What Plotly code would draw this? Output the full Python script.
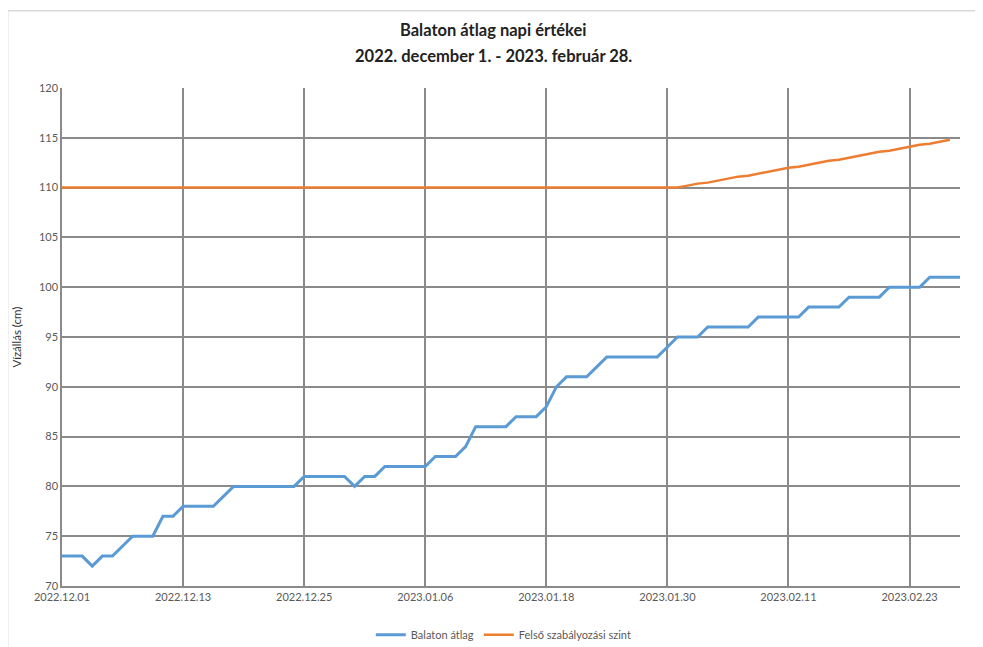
import plotly.graph_objects as go
import pandas as pd

# napi értékek 2022.12.01 - 2023.02.28
dates = pd.date_range('2022-12-01', '2023-02-28', freq='D')

balaton_atlag = [
    73, 73, 73, 72, 73, 73, 74, 75, 75, 75,
    77, 77, 78, 78, 78, 78, 79, 80, 80, 80,
    80, 80, 80, 80, 81, 81, 81, 81, 81, 80,
    81, 81, 82, 82, 82, 82, 82, 83, 83, 83,
    84, 86, 86, 86, 86, 87, 87, 87, 88, 90,
    91, 91, 91, 92, 93, 93, 93, 93, 93, 93,
    94, 95, 95, 95, 96, 96, 96, 96, 96, 97,
    97, 97, 97, 97, 98, 98, 98, 98, 99, 99,
    99, 99, 100, 100, 100, 100, 101, 101, 101, 101,
]

felso_szint = [110.0] * 62 + [
    110.2, 110.4, 110.5, 110.7, 110.9, 111.1, 111.2, 111.4, 111.6,
    111.8, 112.0, 112.1, 112.3, 112.5, 112.7, 112.8, 113.0, 113.2, 113.4,
    113.6, 113.7, 113.9, 114.1, 114.3, 114.4, 114.6, 114.8,
]

title_1 = 'Balaton átlag napi értékei'
title_2 = '2022. december 1. - 2023. február 28.'

font_family = 'Lato, Open Sans, sans-serif'
grid_col = '#8a8a8a'

fig = go.Figure()
fig.add_trace(go.Scatter(x=dates, y=balaton_atlag, mode='lines', name='Balaton átlag',
                         line=dict(color='#5B9BD5', width=3)))
fig.add_trace(go.Scatter(x=dates, y=felso_szint, mode='lines', name='Felső szabályozási szint',
                         line=dict(color='#ED7D31', width=2.5)))

# outer chart border (Excel style)
fig.add_shape(type='rect', xref='paper', yref='paper',
              x0=-0.0605, x1=1.03, y0=-0.2, y1=1.155,
              line=dict(color='#d9d9d9', width=1.5), layer='below')

# title as two annotations (Excel spacing is wider than <br>)
for txt, yy in [(title_1, 1.116), (title_2, 1.064)]:
    fig.add_annotation(text='<b>' + txt + '</b>', xref='paper', yref='paper',
                       x=0.48, y=yy, xanchor='center', yanchor='middle', showarrow=False,
                       font=dict(size=16.5, color='#222222', family=font_family))

# page body has 8px margin, so the figure is 8px smaller
fig.update_layout(
    width=975, height=639,
    margin=dict(l=54, r=23, t=80, b=61, autoexpand=False),
    paper_bgcolor='white', plot_bgcolor='white',
    font=dict(family=font_family, size=11, color='#595959'),
    showlegend=True,
    legend=dict(orientation='h', x=0.492, xanchor='center', y=-0.098, yanchor='middle',
                font=dict(size=11, color='#595959'), itemwidth=30),
    xaxis=dict(type='date', range=[dates[0], dates[-1]],
               tick0=dates[0], dtick=12 * 24 * 3600 * 1000, tickformat='%Y.%m.%d',
               showgrid=True, gridcolor=grid_col, gridwidth=1.5,
               showline=True, linecolor=grid_col, linewidth=1.5,
               ticks='', zeroline=False),
    yaxis=dict(range=[70, 120], dtick=5, tick0=70,
               showgrid=True, gridcolor=grid_col, gridwidth=1.5,
               showline=True, linecolor=grid_col, linewidth=1.5,
               ticks='', zeroline=False,
               title=dict(text='Vízállás (cm)', standoff=15,
                          font=dict(size=11.5, color='#333333'))),
)

fig.write_html('out.html')
